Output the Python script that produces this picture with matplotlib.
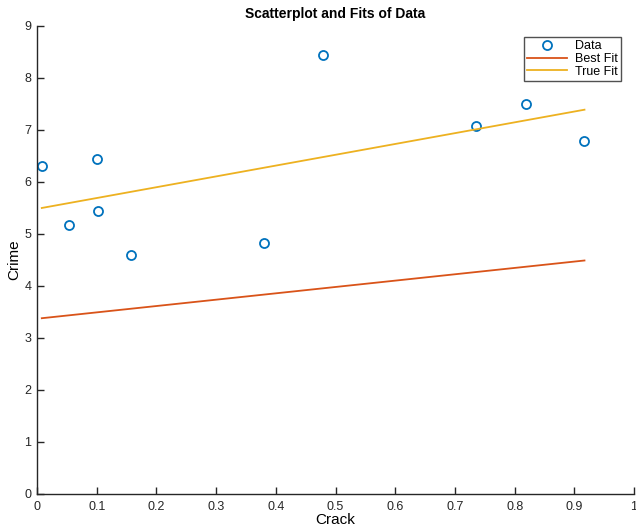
import numpy as np
import matplotlib
matplotlib.use("Agg")
import matplotlib.pyplot as plt

# data
crack = [0.008, 0.053, 0.100, 0.102, 0.157, 0.380, 0.479, 0.736, 0.819, 0.917]
crime = [6.31, 5.17, 6.44, 5.45, 4.59, 4.83, 8.45, 7.08, 7.50, 6.79]
fit_x = [0.008, 0.917]
best_fit = [3.38, 4.49]
true_fit = [5.50, 7.39]

plt.rcParams['font.family'] = ['Liberation Sans', 'DejaVu Sans']

fig = plt.figure(figsize=(6.36, 5.29), dpi=100)
ax = fig.add_axes([0.0582, 0.0662, 0.9387, 0.8847])

ax.plot(crack, crime, 'o', markerfacecolor='none', markeredgecolor='#0072BD',
        markersize=6.5, markeredgewidth=1.3, label='Data')
ax.plot(fit_x, best_fit, color='#D95319', linewidth=1.3, label='Best Fit')
ax.plot(fit_x, true_fit, color='#EDB120', linewidth=1.3, label='True Fit')

ax.set_xlim(0, 1)
ax.set_ylim(0, 9)
ax.set_xticks(np.arange(0, 1.01, 0.1))
ax.set_xticklabels(['0', '0.1', '0.2', '0.3', '0.4', '0.5', '0.6', '0.7', '0.8', '0.9', '1'])
ax.set_yticks(range(10))

for s in ['top', 'right']:
    ax.spines[s].set_visible(False)
for s in ['left', 'bottom']:
    ax.spines[s].set_color('#262626')
    ax.spines[s].set_linewidth(1.0)
ax.tick_params(direction='in', length=5, width=1, colors='#262626', labelsize=9)
ax.tick_params(axis='x', pad=5)
ax.tick_params(axis='y', pad=4)

ax.set_xlabel('Crack', fontsize=11, labelpad=0)
ax.set_ylabel('Crime', fontsize=11, labelpad=2)
ax.set_title('Scatterplot and Fits of Data', fontsize=10, fontweight='bold', pad=6)

leg = ax.legend(loc='upper right', bbox_to_anchor=(0.978, 0.976), fontsize=9,
                frameon=True, fancybox=False, handlelength=3.2, handletextpad=0.6,
                borderpad=0.25, labelspacing=0.05, borderaxespad=0)
leg.get_frame().set_edgecolor('#262626')
leg.get_frame().set_linewidth(1.0)

fig.savefig('out.png', dpi=100)
